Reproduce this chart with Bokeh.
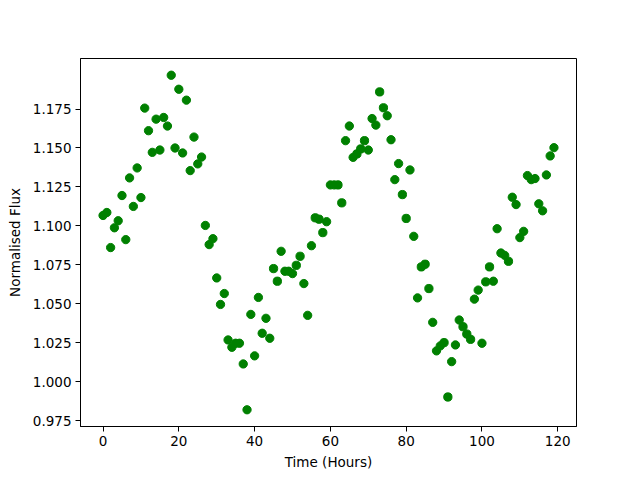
from bokeh.plotting import figure
from bokeh.models import Range1d, FixedTicker, PrintfTickFormatter
from bokeh.embed import file_html
from bokeh.resources import INLINE

hours = list(range(120))
flux = [
    1.1067, 1.1086, 1.0861, 1.0988, 1.1033, 1.1195, 1.0912, 1.1308, 1.1125, 1.1372,
    1.1182, 1.1756, 1.1611, 1.1472, 1.1685, 1.1487, 1.1696, 1.1641, 1.1967, 1.1500,
    1.1877, 1.1468, 1.1807, 1.1355, 1.1570, 1.1398, 1.1442, 1.1003, 1.0880, 1.0918,
    1.0666, 1.0496, 1.0566, 1.0268, 1.0221, 1.0247, 1.0247, 1.0114, 0.9820, 1.0432,
    1.0166, 1.0541, 1.0311, 1.0407, 1.0279, 1.0726, 1.0645, 1.0837, 1.0709, 1.0709,
    1.0694, 1.0747, 1.0805, 1.0630, 1.0426, 1.0873, 1.1052, 1.1043, 1.0957, 1.1027,
    1.1263, 1.1263, 1.1263, 1.1148, 1.1547, 1.1641, 1.1440, 1.1462, 1.1494, 1.1547,
    1.1487, 1.1689, 1.1647, 1.1860, 1.1758, 1.1707, 1.1553, 1.1297, 1.1400, 1.1201,
    1.1048, 1.1359, 1.0933, 1.0538, 1.0737, 1.0754, 1.0598, 1.0381, 1.0198, 1.0230,
    1.0251, 0.9902, 1.0129, 1.0236, 1.0396, 1.0353, 1.0306, 1.0272, 1.0530, 1.0588,
    1.0247, 1.0641, 1.0737, 1.0645, 1.0982, 1.0826, 1.0811, 1.0773, 1.1184, 1.1137,
    1.0925, 1.0965, 1.1323, 1.1297, 1.1304, 1.1142, 1.1097, 1.1327, 1.1449, 1.1502,
]
x_ticks = [0, 20, 40, 60, 80, 100, 120]
y_ticks = [0.975, 1.000, 1.025, 1.050, 1.075, 1.100, 1.125, 1.150, 1.175]

xmin, xmax = min(hours), max(hours)
ymin, ymax = min(flux), max(flux)
xm = 0.05 * (xmax - xmin)
ym = 0.05 * (ymax - ymin)

p = figure(width=624, height=472, output_backend="svg", toolbar_location=None,
           x_range=Range1d(xmin - xm, xmax + xm),
           y_range=Range1d(ymin - ym, ymax + ym),
           min_border_left=80, min_border_right=48,
           min_border_top=58, min_border_bottom=45)

p.scatter(hours, flux, size=8.3, color="#008000", line_color="#008000")

p.xgrid.visible = False
p.ygrid.visible = False
p.outline_line_color = "black"
p.outline_line_width = 1
p.background_fill_color = "white"
p.border_fill_color = "white"

for ax in (p.xaxis[0], p.yaxis[0]):
    ax.axis_line_color = "black"
    ax.axis_line_width = 1
    ax.major_tick_out = 5
    ax.major_tick_in = 0
    ax.minor_tick_out = 0
    ax.minor_tick_in = 0
    ax.major_tick_line_color = "black"
    ax.major_label_text_font = "DejaVu Sans"
    ax.major_label_text_font_size = "13.5px"
    ax.major_label_text_color = "black"
    ax.axis_label_text_font = "DejaVu Sans"
    ax.axis_label_text_font_size = "13.5px"
    ax.axis_label_text_font_style = "normal"
    ax.axis_label_text_color = "black"
    ax.major_label_standoff = 4

p.xaxis.ticker = FixedTicker(ticks=x_ticks)
p.yaxis.ticker = FixedTicker(ticks=y_ticks)
p.yaxis.formatter = PrintfTickFormatter(format="%.3f")
p.xaxis.axis_label = "Time (Hours)"
p.yaxis.axis_label = "Normalised Flux"
p.xaxis.axis_label_standoff = 5
p.yaxis.axis_label_standoff = 7

open("out.html", "w").write(file_html(p, INLINE))
